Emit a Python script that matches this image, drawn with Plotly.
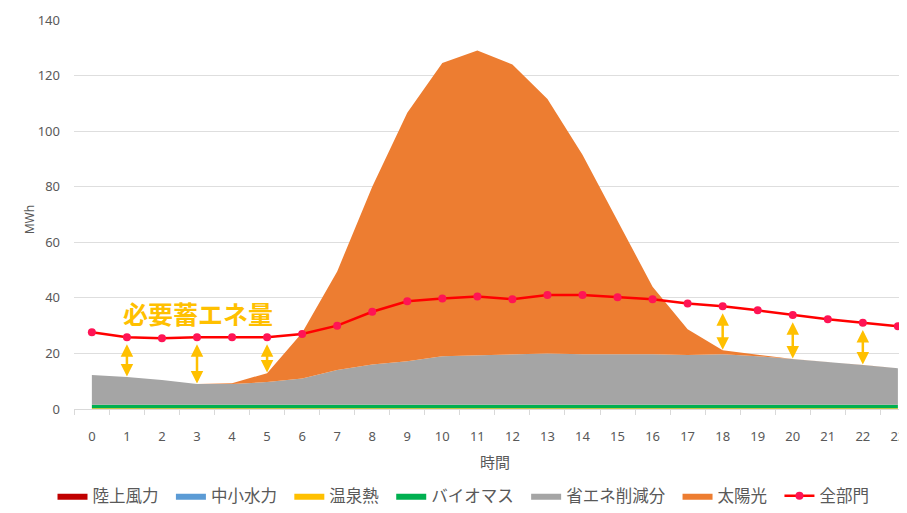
import plotly.graph_objects as go

hours = list(range(24))
wind = [0.0] * 24
hydro = [0.0] * 24
hotspring = [0.3] * 24
biomass = [1.2] * 24
saving = [10.7, 10.0, 8.9, 7.5, 7.5, 8.2, 9.5, 12.5, 14.5, 15.7, 17.5, 17.9,
          18.2, 18.5, 18.2, 18.2, 18.2, 17.9, 18.2, 17.5, 16.5, 15.4, 14.3, 13.2]
solar = [0, 0, 0, 0, 0.3, 3.2, 16.4, 35.5, 64, 89.4, 105.5, 109.6,
         104.3, 91.6, 71.8, 47.8, 24.3, 9.3, 1.4, 0.5, 0, 0, 0, 0]
demand = [27.6, 25.8, 25.5, 25.8, 25.8, 25.8, 27.0, 30.0, 35.0, 38.8, 39.8, 40.5,
          39.5, 41.0, 41.0, 40.2, 39.5, 38.0, 37.0, 35.5, 33.8, 32.3, 31.0, 29.8]
arrow_hours = [1, 3, 5, 18, 20, 22]
ytick_vals = [0, 20, 40, 60, 80, 100, 120, 140]

FONT = "Noto Sans CJK JP, Noto Sans, sans-serif"
NUMFONT = "Noto Sans, sans-serif"
GRAY_TXT = "#595959"
PAD = "\u00a0\u00a0"

# The page body has an 8px default margin; size the figure to fill the window.
W, H = 899, 505

fig = go.Figure()
areas = [
    ("陸上風力", wind, "#C00000"),
    ("中小水力", hydro, "#5B9BD5"),
    ("温泉熱", hotspring, "#FFC000"),
    ("バイオマス", biomass, "#00B050"),
    ("省エネ削減分", saving, "#A5A5A5"),
    ("太陽光", solar, "#ED7D31"),
]
for name, vals, col in areas:
    fig.add_trace(go.Scatter(
        x=hours, y=vals, name=name + PAD, mode="lines", stackgroup="one",
        line=dict(width=0, color=col), fillcolor=col,
    ))

fig.add_trace(go.Scatter(
    x=hours, y=demand, name="全部門", mode="lines+markers",
    line=dict(color="#FF0000", width=2.5),
    marker=dict(color="#FF1455", size=8),
))

stack_top = [sum(v[i] for _, v, _ in areas) for i in hours]
annotations = []
for h in arrow_hours:
    annotations.append(dict(
        x=h, y=stack_top[h] + 0.2, ax=h, ay=demand[h] - 2.0,
        xref="x", yref="y", axref="x", ayref="y",
        text="", showarrow=True, arrowhead=2, startarrowhead=2,
        arrowside="end+start", arrowwidth=2.5, arrowsize=1.0, startarrowsize=1.0,
        arrowcolor="#FFC000",
    ))

annotations += [
    dict(x=3.03, y=34.6, xref="x", yref="y", text="<b>必要蓄エネ量</b>",
         showarrow=False, font=dict(size=25, color="#FFC000", family=FONT)),
    dict(x=0.505, y=-0.135, xref="paper", yref="paper", text="時間", showarrow=False,
         yanchor="middle", font=dict(size=15, color=GRAY_TXT, family=FONT)),
    dict(x=-0.065, y=0.486, xref="paper", yref="paper", text="MWh", showarrow=False,
         textangle=-90, font=dict(size=12, color=GRAY_TXT, family=NUMFONT)),
]

fig.update_layout(
    width=W, height=H,
    margin=dict(l=66, r=0, t=11.5, b=103.5, autoexpand=False),
    paper_bgcolor="white", plot_bgcolor="white",
    font=dict(family=FONT, size=13, color=GRAY_TXT),
    showlegend=True,
    legend=dict(orientation="h", x=0.4676, xanchor="center", y=-0.224, yanchor="middle",
                font=dict(size=16.5, color=GRAY_TXT, family=FONT), itemwidth=30,
                traceorder="normal"),
    annotations=annotations,
)

fig.update_xaxes(
    range=[-0.51, 23.26], tickmode="array", tickvals=hours,
    ticktext=[str(h) for h in hours], ticks="", showgrid=False,
    showline=True, linecolor="#D9D9D9", linewidth=1, automargin=False,
    ticklabelstandoff=15, tickfont=dict(size=13, color=GRAY_TXT, family=NUMFONT),
    minor=dict(tick0=-0.5, dtick=1, ticks="outside", ticklen=5, tickcolor="#D9D9D9",
               showgrid=False),
    zeroline=False,
)
fig.update_yaxes(
    range=[0, 140], tickmode="array", tickvals=ytick_vals, automargin=False,
    showgrid=True, gridcolor="#DEDEDE", gridwidth=1, zeroline=False,
    showline=False, ticks="", ticklabelstandoff=13,
    tickfont=dict(size=13, color=GRAY_TXT, family=NUMFONT),
)

fig.write_html("out.html")
